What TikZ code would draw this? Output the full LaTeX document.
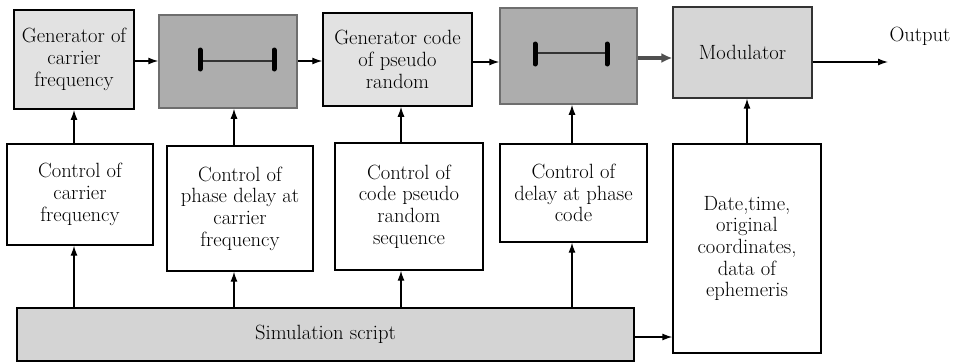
\documentclass[tikz,border=0pt]{standalone}
\usetikzlibrary{arrows.meta}
\definecolor{genfill}{HTML}{E2E2E2}
\definecolor{delfill}{HTML}{ADADAD}
\definecolor{deldraw}{HTML}{6E6E6E}
\definecolor{modfill}{HTML}{D6D6D6}
\definecolor{simfill}{HTML}{D4D4D4}
\definecolor{thickarr}{HTML}{505050}
\tikzset{
  box/.style={rectangle, inner sep=0pt, align=center,
    font=\rmfamily\fontsize{20.6pt}{21.7pt}\selectfont},
  genbox/.style={box, fill=genfill, draw=black, line width=1.8pt},
  delaybox/.style={box, fill=delfill, draw=deldraw, line width=1.5pt},
  ctrlbox/.style={box, fill=white, draw=black, line width=1.3pt},
  modbox/.style={box, fill=modfill, draw=black!80, line width=1.2pt},
  simbox/.style={box, fill=simfill, draw=black, line width=2pt},
  arr/.style={line width=1.3pt, -{Latex[length=10pt,width=7pt]}},
  thickarrow/.style={line width=3.5pt, draw=thickarr, fill=thickarr, -{Latex[length=11pt,width=10pt]}},
  bar/.style={line width=5pt, line cap=round},
  barline/.style={line width=1.5pt, draw=black!80},
}
\begin{document}
\begin{tikzpicture}[x=1pt,y=-1pt]
\useasboundingbox (0,0) rectangle (953,364);
% top row
\node[genbox, minimum width=120pt, minimum height=99pt] (gc) at (74,59.5) {Generator of\\carrier\\frequency};
\node[delaybox, minimum width=138pt, minimum height=93pt] (d1) at (228,61.5) {};
\node[genbox, line width=1.5pt, minimum width=149pt, minimum height=93pt] (gcode) at (397.5,59.5) {Generator code\\of pseudo\\random};
\node[delaybox, minimum width=137pt, minimum height=96pt] (d2) at (568.5,56) {};
\node[modbox, minimum width=139pt, minimum height=91pt] (mod) at (742.5,52.5) {Modulator};
\node[box] (outlbl) at (920,36) {Output};
% bottom row
\node[ctrlbox, minimum width=146pt, minimum height=101pt] (cc) at (80,194.5) {Control of\\carrier\\frequency};
\node[ctrlbox, minimum width=146pt, minimum height=125pt] (cpd) at (240,208.5) {Control of\\phase delay at\\carrier\\frequency};
\node[ctrlbox, minimum width=148pt, minimum height=127pt] (ccode) at (409,206.5) {Control of\\code pseudo\\random\\sequence};
\node[ctrlbox, minimum width=147pt, minimum height=98pt] (cdp) at (573.5,193) {Control of\\delay at phase\\code};
\node[ctrlbox, minimum width=148pt, minimum height=209pt] (date) at (747,248.5) {Date,time,\\original\\coordinates,\\data of\\ephemeris};
\node[simbox, minimum width=617pt, minimum height=53pt] (sim) at (325.5,334.5) {Simulation script};
% delay symbols
\draw[barline] (200,61) -- (274,61);
\draw[bar] (200,50) -- (200,69);
\draw[bar] (274,50) -- (274,69);
\draw[barline] (535,53) -- (607,53);
\draw[bar] (535,44) -- (535,64);
\draw[bar] (607,44) -- (607,64);
% column and row coordinates
\coordinate (c1) at (74,0);
\coordinate (c2) at (234,0);
\coordinate (c3) at (401,0);
\coordinate (c4) at (572,0);
\coordinate (c5) at (747,0);
\coordinate (h1) at (0,61);
\coordinate (h2) at (0,62);
\coordinate (h3) at (0,58);
\coordinate (h4) at (0,337);
\coordinate (outend) at (888,62);
% horizontal connectors
\draw[arr] (gc.east |- h1) -- (d1.west |- h1);
\draw[arr] (d1.east |- h1) -- (gcode.west |- h1);
\draw[arr] (gcode.east |- h2) -- (d2.west |- h2);
\draw[thickarrow] (d2.east |- h3) -- (mod.west |- h3);
\draw[arr] (mod.east |- outend) -- (outend);
\draw[arr] (sim.east |- h4) -- (date.west |- h4);
% vertical connectors control -> generators
\draw[arr] (cc.north -| c1) -- (gc.south -| c1);
\draw[arr] (cpd.north -| c2) -- (d1.south -| c2);
\draw[arr] (ccode.north -| c3) -- (gcode.south -| c3);
\draw[arr] (cdp.north -| c4) -- (d2.south -| c4);
\draw[arr] (date.north -| c5) -- (mod.south -| c5);
% vertical connectors sim -> control
\draw[arr] (sim.north -| c1) -- (cc.south -| c1);
\draw[arr] (sim.north -| c2) -- (cpd.south -| c2);
\draw[arr] (sim.north -| c3) -- (ccode.south -| c3);
\draw[arr] (sim.north -| c4) -- (cdp.south -| c4);
\end{tikzpicture}
\end{document}
